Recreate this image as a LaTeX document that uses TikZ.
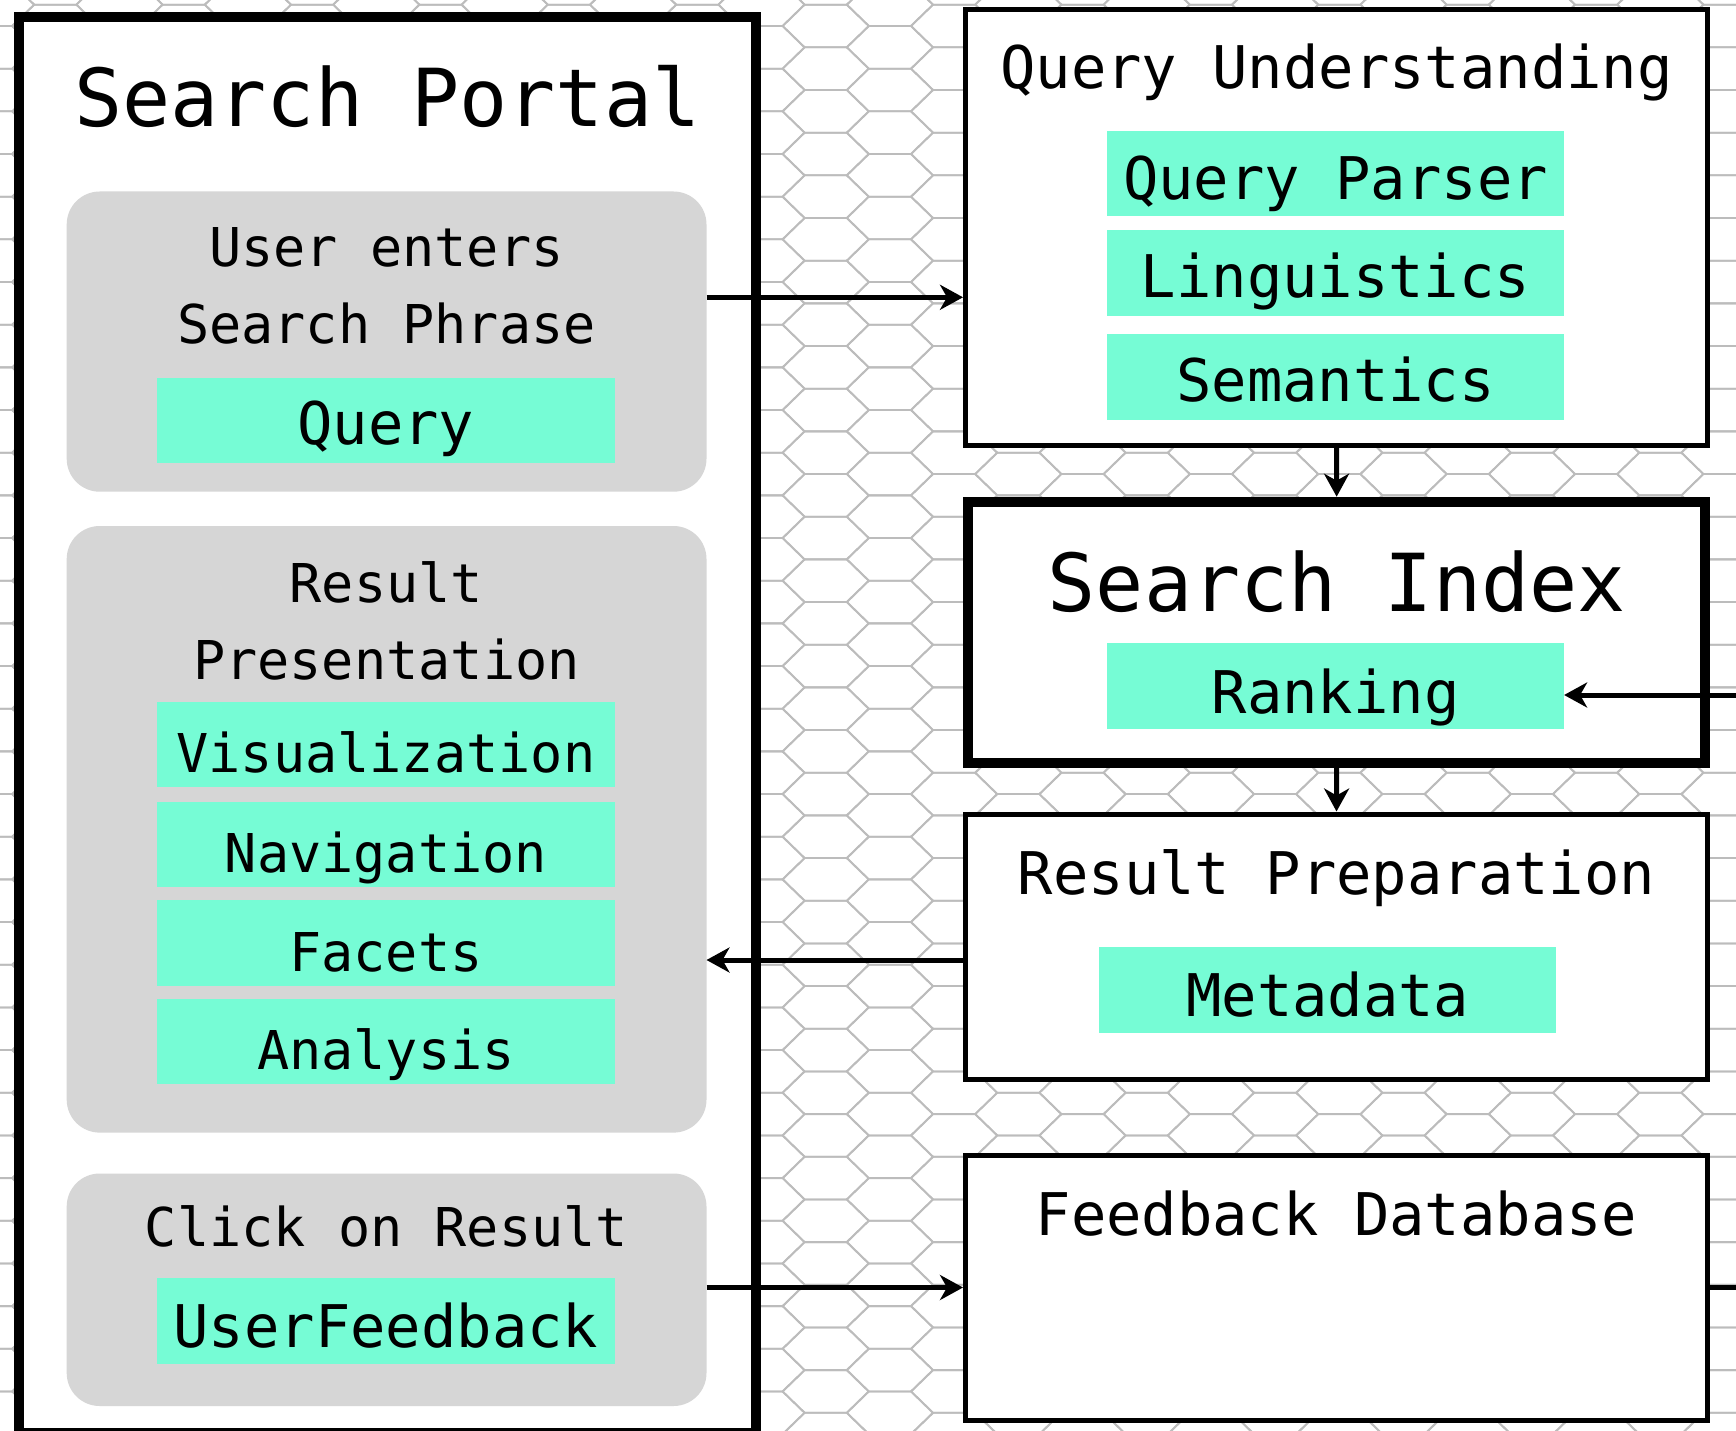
\documentclass[tikz,border=0pt]{standalone}
\usepackage{fontspec}
\setmonofont{DejaVu Sans Mono}
\usetikzlibrary{arrows.meta,calc}
\definecolor{boxgreen}{RGB}{118,252,213}
\definecolor{boxgray}{RGB}{214,214,214}
\definecolor{hexline}{RGB}{188,188,188}
\begin{document}
\begin{tikzpicture}[x=1pt,y=-1pt,
  hexcell/.style={draw=hexline, line width=1.8pt, line join=miter},
  panel/.style={draw=black, fill=white, line width=5pt, rectangle, inner sep=0pt},
  thickpanel/.style={panel, line width=10pt},
  graybox/.style={fill=boxgray, rectangle, rounded corners=33pt, inner sep=0pt, outer sep=0pt, minimum width=639.8pt},
  greenbox/.style={fill=boxgreen, rectangle, inner sep=0pt, outer sep=0pt, minimum width=457.2pt, minimum height=85.5pt},
  titletxt/.style={font=\ttfamily\fontsize{80}{96}\selectfont, anchor=base, inner sep=0pt},
  bigtxt/.style={font=\ttfamily\fontsize{58.8}{70}\selectfont, anchor=base, inner sep=0pt},
  smalltxt/.style={font=\ttfamily\fontsize{53.5}{64}\selectfont, anchor=base, inner sep=0pt},
  conn/.style={draw=black, line width=5pt, -{Stealth[length=23pt,width=25pt,inset=7pt]}},
  plainconn/.style={draw=black, line width=5pt}
]
\path[use as bounding box] (0,0) rectangle (1736,1431);
\clip (0,0) rectangle (1736,1431);
\fill[white] (0,0) rectangle (1736,1431);

% hexagonal background
\foreach \i in {-14,...,15}{
  \pgfmathsetmacro{\cx}{825.7+64.2*\i}
  \pgfmathsetmacro{\oy}{26+21.33*mod(abs(\i),2)}
  \foreach \j in {-1,...,34}{
    \draw[hexcell] (\cx-21.1, \oy+42.67*\j-21.33) -- ++(42.2,0) -- ++(22,21.33) -- ++(-22,21.33) -- ++(-42.2,0) -- ++(-22,-21.33) -- cycle;
  }
}

% ---------- Search Portal ----------
\node[thickpanel, minimum width=736.7pt, minimum height=1416pt] (sp) at (387.35,725) {};
\node[titletxt] (tsp) at (387.4,126.7) {Search Portal};

\node[graybox, minimum height=300.2pt] (gb1) at (386.6,341.6) {};
\node[smalltxt] (tue) at (386.4,266) {User enters};
\node[smalltxt] (tsph) at (386.4,343) {Search Phrase};
\node[greenbox] (gquery) at (385.9,420.25) {};
\node[bigtxt] (tquery) at (385.9,444) {Query};

\node[graybox, minimum height=606.6pt] (gb2) at (386.6,829.3) {};
\node[smalltxt] (tres) at (386.4,602.7) {Result};
\node[smalltxt] (tpres) at (386.4,679.3) {Presentation};
\node[greenbox] (gvis) at (385.9,744.45) {};
\node[smalltxt] (tvis) at (385.9,772.7) {Visualization};
\node[greenbox] (gnav) at (385.9,844.25) {};
\node[smalltxt] (tnav) at (385.9,872.5) {Navigation};
\node[greenbox] (gfac) at (385.9,942.75) {};
\node[smalltxt] (tfac) at (385.9,971) {Facets};
\node[greenbox] (gana) at (385.9,1041.35) {};
\node[smalltxt] (tana) at (385.9,1069.6) {Analysis};

\node[graybox, minimum height=232.5pt] (gb3) at (386.6,1289.75) {};
\node[smalltxt] (tclick) at (386.4,1246.7) {Click on Result};
\node[greenbox] (guf) at (385.9,1321) {};
\node[bigtxt] (tuf) at (385.9,1347) {UserFeedback};

% ---------- right column ----------
\node[panel, minimum width=742pt, minimum height=436.2pt] (qu) at (1336.5,227.6) {};
\node[bigtxt] (tqu) at (1336.5,89) {Query Understanding};
\node[greenbox] (gqp) at (1335.5,173.75) {};
\node[bigtxt] (tqp) at (1335.5,200) {Query Parser};
\node[greenbox] (gling) at (1335.5,272.75) {};
\node[bigtxt] (tling) at (1335.5,297.7) {Linguistics};
\node[greenbox] (gsem) at (1335.5,376.75) {};
\node[bigtxt] (tsem) at (1335.5,401.7) {Semantics};

\node[thickpanel, minimum width=736.7pt, minimum height=261.3pt] (si) at (1336.65,632.35) {};
\node[titletxt] (tsi) at (1336.7,611.7) {Search Index};
\node[greenbox] (grank) at (1335.5,685.75) {};
\node[bigtxt] (trank) at (1335.5,713) {Ranking};

\node[panel, minimum width=742pt, minimum height=265pt] (rp) at (1336.5,946.5) {};
\node[bigtxt] (trp) at (1336.5,894) {Result Preparation};
\node[greenbox] (gmeta) at (1327.8,989.75) {};
\node[bigtxt] (tmeta) at (1327.8,1016) {Metadata};

\node[panel, minimum width=742pt, minimum height=265pt] (fd) at (1336.5,1287.5) {};
\node[bigtxt] (tfd) at (1336.5,1235) {Feedback Database};

% ---------- connectors ----------
\coordinate (ya) at (0,297.3);
\coordinate (yb) at (0,960);
\coordinate (yc) at (0,1287.5);
\coordinate (rin) at (1780,695);
\coordinate (rout) at (1780,1287.5);

\draw[conn] (gb1.east |- ya) -- (qu.west |- ya);
\draw[conn] (rp.west |- yb) -- (gb2.east |- yb);
\draw[conn] (gb3.east |- yc) -- (fd.west |- yc);
\draw[conn] (qu.south) -- (si.north);
\draw[conn] (si.south) -- (rp.north);
\draw[conn] (rin) -- (grank.east |- rin);
\draw[plainconn] (fd.east |- yc) -- (rout);
\end{tikzpicture}
\end{document}
